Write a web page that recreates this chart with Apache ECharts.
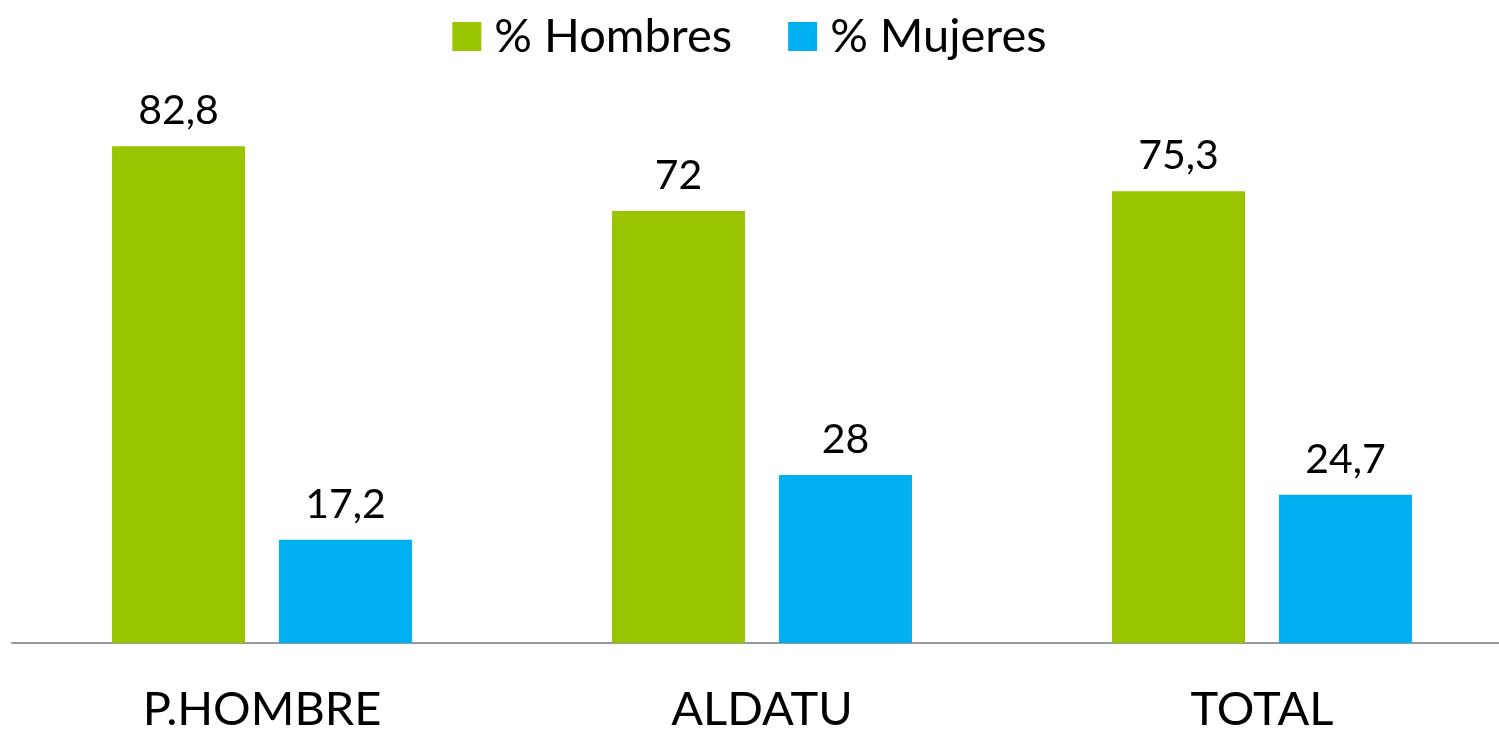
<!DOCTYPE html>
<html>
<head>
<meta charset="utf-8">
<script src="https://cdn.jsdelivr.net/npm/echarts@6/dist/echarts.min.js"></script>
<style>
  html, body { margin: 0; padding: 0; background: #fff; }
  #chart { width: 1499px; height: 731px; }
</style>
</head>
<body>
<div id="chart"></div>
<script>
// datos
var categories = ['P.HOMBRE', 'ALDATU', 'TOTAL']
var hombres = [82.8, 72, 75.3]
var mujeres = [17.2, 28, 24.7]

var fontName = 'Lato'

function labelFmt (p) {
  return String(p.value).replace('.', ',')
}

var myChart = echarts.init(document.getElementById('chart'))
myChart.setOption({
  animation: false,
  legend: {
    top: 8,
    left: 'center',
    itemWidth: 29,
    itemHeight: 29,
    itemGap: 56,
    icon: 'rect',
    textStyle: { fontFamily: fontName, fontSize: 47, color: '#000', padding: [0, 0, 0, 8] },
    data: ['% Hombres', '% Mujeres']
  },
  grid: {
    left: 12,
    right: -13,
    top: 43,
    bottom: 88,
    outerBoundsMode: 'none'
  },
  xAxis: {
    type: 'category',
    data: categories,
    axisTick: { show: false },
    axisLine: { lineStyle: { color: '#999', width: 2 } },
    axisLabel: { fontFamily: fontName, fontSize: 47, color: '#000', margin: 43 }
  },
  yAxis: {
    type: 'value',
    min: 0,
    max: 100,
    show: false,
    splitLine: { show: false }
  },
  series: [
    {
      name: '% Hombres',
      type: 'bar',
      data: hombres,
      barWidth: 133,
      barGap: '25.5%',
      itemStyle: { color: '#99C400' },
      label: { show: true, position: 'top', distance: 15, formatter: labelFmt, fontFamily: fontName, fontSize: 41, color: '#000' }
    },
    {
      name: '% Mujeres',
      type: 'bar',
      data: mujeres,
      barWidth: 133,
      barGap: '25.5%',
      itemStyle: { color: '#00B0F0' },
      label: { show: true, position: 'top', distance: 15, formatter: labelFmt, fontFamily: fontName, fontSize: 41, color: '#000' }
    }
  ]
})
</script>
</body>
</html>
